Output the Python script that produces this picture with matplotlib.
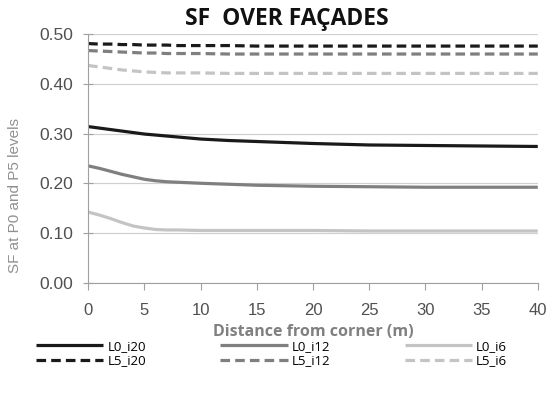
import matplotlib
matplotlib.use("Agg")
import matplotlib.pyplot as plt
import numpy as np

x = [0, 1, 2, 3, 4, 5, 6, 7, 8, 10, 12.5, 15, 20, 25, 30, 35, 40]
L0_i20 = [0.314, 0.311, 0.308, 0.305, 0.302, 0.299, 0.297, 0.295, 0.293, 0.289, 0.286, 0.284, 0.280, 0.277, 0.276, 0.275, 0.274]
L0_i12 = [0.235, 0.230, 0.224, 0.218, 0.213, 0.208, 0.205, 0.203, 0.202, 0.200, 0.198, 0.196, 0.194, 0.193, 0.192, 0.192, 0.192]
L0_i6 = [0.142, 0.136, 0.129, 0.121, 0.114, 0.110, 0.107, 0.106, 0.106, 0.105, 0.105, 0.105, 0.105, 0.104, 0.104, 0.104, 0.104]
L5_i20 = [0.481, 0.480, 0.480, 0.479, 0.479, 0.478, 0.478, 0.478, 0.477, 0.477, 0.477, 0.476, 0.476, 0.476, 0.476, 0.476, 0.476]
L5_i12 = [0.467, 0.466, 0.465, 0.464, 0.463, 0.462, 0.462, 0.461, 0.461, 0.461, 0.460, 0.460, 0.460, 0.460, 0.460, 0.460, 0.460]
L5_i6 = [0.437, 0.434, 0.431, 0.428, 0.426, 0.424, 0.423, 0.422, 0.422, 0.422, 0.421, 0.421, 0.421, 0.421, 0.421, 0.421, 0.421]

series = [
    ("L0_i20", L0_i20, "#1a1a1a", "-"),
    ("L5_i20", L5_i20, "#1a1a1a", "--"),
    ("L0_i12", L0_i12, "#7f7f7f", "-"),
    ("L5_i12", L5_i12, "#7f7f7f", "--"),
    ("L0_i6", L0_i6, "#c4c4c4", "-"),
    ("L5_i6", L5_i6, "#c4c4c4", "--"),
]

fig = plt.figure(figsize=(5.51, 3.97), dpi=100)
ax = fig.add_axes([0.16, 0.288, 0.816, 0.626])

for name, vals, col, ls in series:
    ax.plot(x, vals, color=col, linestyle=ls, lw=2.3, label=name,
            dashes=(3, 1.6) if ls == "--" else (None, None), solid_capstyle="butt")

ax.set_xlim(0, 40)
ax.set_ylim(0, 0.5)
ax.set_xticks(np.arange(0, 41, 5))
ax.set_yticks(np.arange(0, 0.51, 0.1))
ax.set_yticklabels([f"{v:.2f}" for v in np.arange(0, 0.51, 0.1)])
ax.grid(axis="y", color="#d0d0d0", lw=0.9)
ax.set_axisbelow(True)
for s in ["top", "right"]:
    ax.spines[s].set_visible(False)
ax.spines["left"].set_color("#a0a0a0")
ax.spines["bottom"].set_color("#a0a0a0")
ax.tick_params(axis="x", colors="#a0a0a0", length=5, direction="out", labelcolor="#505050",
               labelsize=12, pad=10)
ax.tick_params(axis="y", colors="#a0a0a0", length=7, direction="inout", labelcolor="#505050",
               labelsize=12.5, pad=7)
for lab in ax.get_xticklabels() + ax.get_yticklabels():
    lab.set_family("Liberation Sans")

fig.text(0.521, 0.952, "SF  OVER FAÇADES", fontsize=16.5, fontweight="bold", family="Open Sans",
         ha="center", va="center", color="#111111")
ax.set_xlabel("Distance from corner (m)", fontsize=11.5, fontweight="bold", color="#808080",
              family="Open Sans", labelpad=4)
ax.set_ylabel("SF at P0 and P5 levels", fontsize=11, color="#909090",
              family="Liberation Sans")
ax.yaxis.set_label_coords(-0.148, 0.35)

leg = fig.legend(loc="lower center", bbox_to_anchor=(0.493, 0.045), ncol=3, frameon=False,
                 prop={"family": "Open Sans", "size": 9.5}, handlelength=5.1,
                 columnspacing=5.65, labelspacing=0.1, handletextpad=0.3)

fig.savefig("out.png", dpi=100)
